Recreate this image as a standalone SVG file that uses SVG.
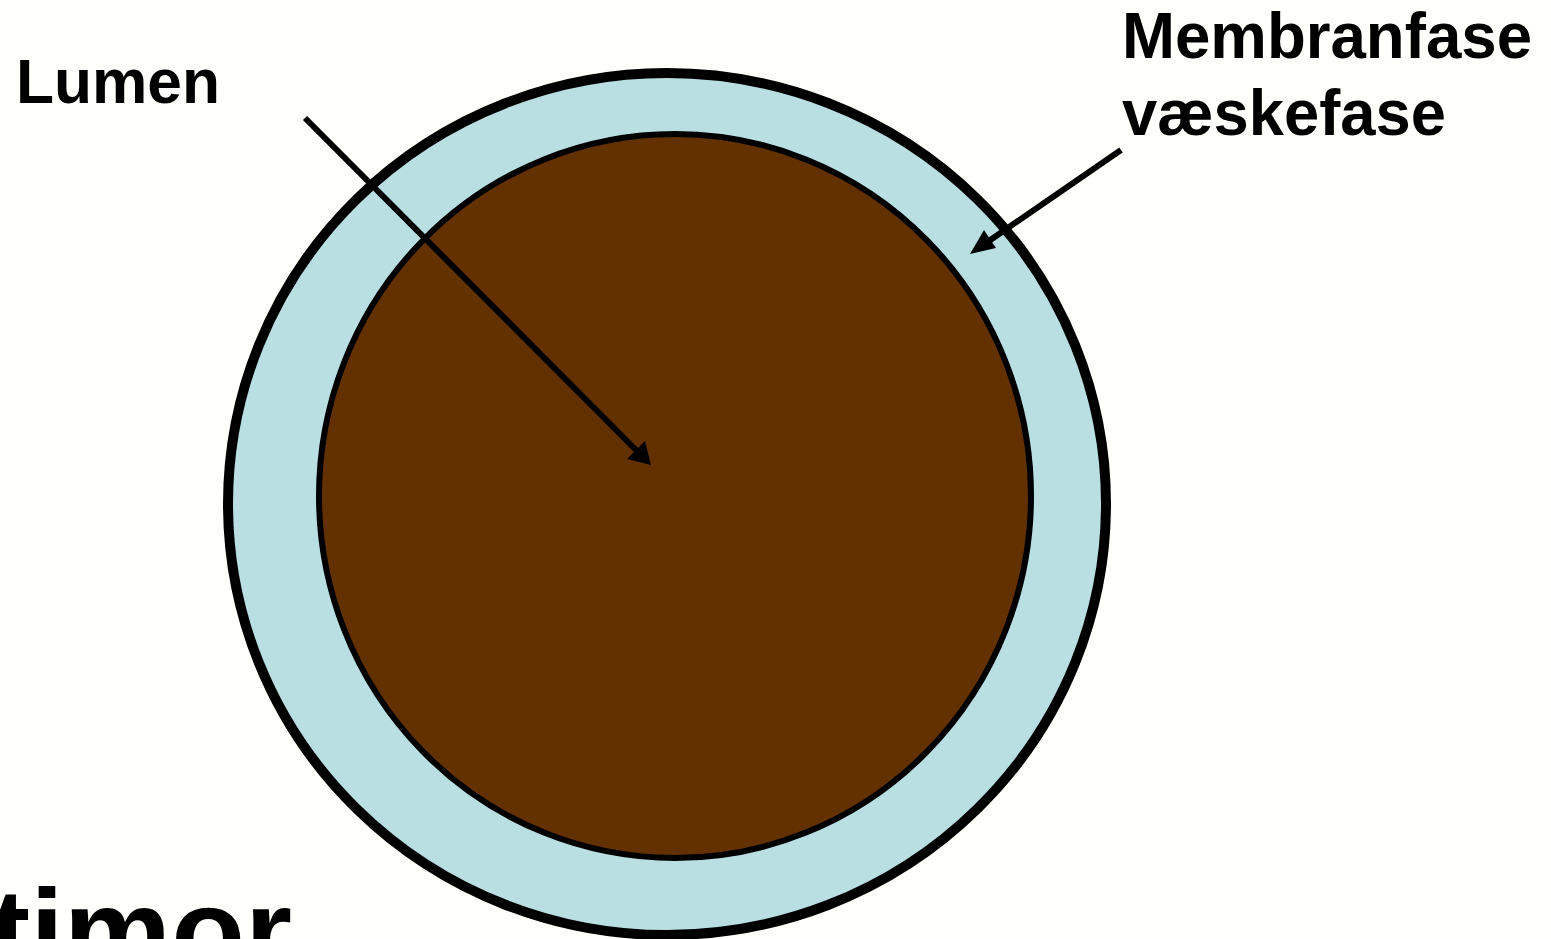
<svg xmlns="http://www.w3.org/2000/svg" width="1551" height="939" viewBox="0 0 1551 939">
<style>
.lbl{font-family:"Liberation Sans",Arial,sans-serif;font-weight:bold;fill:#000}
.conn{stroke:#000;stroke-width:6;fill:none}
</style>
<rect x="0" y="0" width="1551" height="939" fill="#fffffb"/>
<g id="outer-ring">
<ellipse cx="667" cy="504" rx="439" ry="431" fill="#b9dfe3" stroke="#000" stroke-width="10"/>
</g>
<g id="lumen-core">
<ellipse cx="675" cy="496" rx="356" ry="362" fill="#633100" stroke="#000" stroke-width="6"/>
</g>
<g id="connectors">
<line class="conn" x1="305" y1="118" x2="638" y2="452"/>
<polygon points="651,465 627,459 645,441" fill="#000"/>
<line class="conn" x1="1121" y1="150" x2="986" y2="243"/>
<polygon points="970,254 984,230 996,248" fill="#000"/>
</g>
<g id="label-lumen">
<text class="lbl" x="16" y="103" font-size="63" textLength="204" lengthAdjust="spacingAndGlyphs">Lumen</text>
</g>
<g id="label-membranfase">
<text class="lbl" x="1122" y="58" font-size="64" textLength="410" lengthAdjust="spacingAndGlyphs">Membranfase</text>
<text class="lbl" x="1122" y="135" font-size="64" textLength="324" lengthAdjust="spacingAndGlyphs">væskefase</text>
</g>
<g id="label-bottom">
<text class="lbl" x="-10" y="972" font-size="118" textLength="302" lengthAdjust="spacingAndGlyphs">timor</text>
</g>
</svg>
